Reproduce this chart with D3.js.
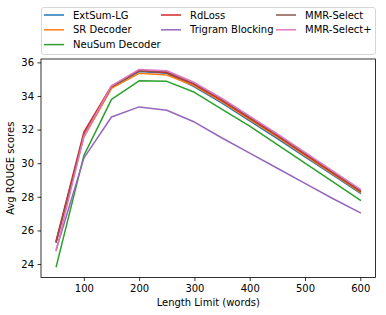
<!DOCTYPE html>
<html>
<head>
    <script src="https://cdnjs.cloudflare.com/ajax/libs/d3/7.8.5/d3.min.js"></script>
    <style>
        body { margin: 0; background: white; }
        text { font-family: "DejaVu Sans", sans-serif; }
    </style>
</head>
<body>
    <svg width="386" height="315"></svg>
    <script>
        const lengths = [50, 100, 150, 200, 250, 300, 350, 400, 450, 500, 550, 600];
        const names = ['ExtSum-LG', 'SR Decoder', 'NeuSum Decoder', 'RdLoss', 'Trigram Blocking', 'MMR-Select', 'MMR-Select+'];
        const colors = ['#1f77b4', '#ff7f0e', '#2ca02c', '#d62728', '#9467bd', '#8c564b', '#e377c2'];

        const extSum  = [25.35, 31.6, 34.5, 35.45, 35.35, 34.55, 33.58, 32.52, 31.47, 30.38, 29.3, 28.22];
        const srDec   = [25.3, 31.55, 34.45, 35.35, 35.25, 34.6, 33.65, 32.6, 31.55, 30.45, 29.37, 28.28];
        const neuSum  = [23.85, 30.45, 33.8, 34.9, 34.87, 34.22, 33.2, 32.2, 31.1, 30.0, 28.9, 27.8];
        const rdLoss  = [25.4, 31.85, 34.6, 35.5, 35.4, 34.68, 33.72, 32.67, 31.62, 30.52, 29.43, 28.33];
        const trigram = [24.85, 30.3, 32.75, 33.35, 33.15, 32.45, 31.5, 30.6, 29.7, 28.8, 27.9, 27.05];
        const mmr     = [25.3, 31.7, 34.55, 35.5, 35.45, 34.72, 33.78, 32.72, 31.67, 30.58, 29.48, 28.38];
        const mmrPlus = [24.8, 31.6, 34.6, 35.58, 35.5, 34.8, 33.85, 32.8, 31.75, 30.65, 29.55, 28.45];
        const series = [extSum, srDec, neuSum, rdLoss, trigram, mmr, mmrPlus];

        const xTicks = [100, 200, 300, 400, 500, 600];
        const yTicks = [24, 26, 28, 30, 32, 34, 36];

        const pL = 41, pR = 375.5, pT = 59, pB = 277.5;
        const svg = d3.select('svg');

        const x = d3.scaleLinear().domain([22.5, 627.5]).range([pL, pR]);
        const y = d3.scaleLinear().domain([23.2, 36.2]).range([pB, pT]);

        // lines
        const line = d3.line().x((d, i) => x(lengths[i])).y(d => y(d));
        series.forEach((s, k) => {
            svg.append('path')
                .attr('d', line(s))
                .attr('fill', 'none')
                .attr('stroke', colors[k])
                .attr('stroke-width', 1.5)
                .attr('stroke-linejoin', 'round')
                .attr('stroke-linecap', 'square');
        });

        // axes
        const xAxis = svg.append('g')
            .attr('transform', `translate(0,${pB})`)
            .call(d3.axisBottom(x).tickValues(xTicks).tickSize(3.5).tickPadding(3.5));
        const yAxis = svg.append('g')
            .attr('transform', `translate(${pL},0)`)
            .call(d3.axisLeft(y).tickValues(yTicks).tickSize(3.5).tickPadding(3.5));
        [xAxis, yAxis].forEach(a => {
            a.select('.domain').remove();
            a.selectAll('text').attr('font-size', 10).attr('font-family', 'DejaVu Sans').attr('fill', '#000');
            a.selectAll('line').attr('stroke', '#000').attr('stroke-width', 0.8);
        });

        svg.append('rect')
            .attr('x', pL).attr('y', pT)
            .attr('width', pR - pL).attr('height', pB - pT)
            .attr('fill', 'none').attr('stroke', '#000').attr('stroke-width', 0.8);

        svg.append('text')
            .attr('x', (pL + pR) / 2).attr('y', 306)
            .attr('text-anchor', 'middle').attr('font-size', 10)
            .text('Length Limit (words)');
        svg.append('text')
            .attr('transform', `translate(14,${(pT + pB) / 2}) rotate(-90)`)
            .attr('text-anchor', 'middle').attr('font-size', 10)
            .text('Avg ROUGE scores');

        // legend
        const legend = svg.append('g');
        legend.append('rect')
            .attr('x', 41.5).attr('y', 7.5).attr('width', 334).attr('height', 47)
            .attr('rx', 2.5)
            .attr('fill', 'white').attr('fill-opacity', 0.8)
            .attr('stroke', '#ccc').attr('stroke-width', 0.8);
        const colX = [44, 161, 276];
        const rows = [0, 1, 2, 0, 1, 0, 1];
        const cols = [0, 0, 0, 1, 1, 2, 2];
        names.forEach((n, k) => {
            const lx = colX[cols[k]], ly = 15 + rows[k] * 14.8;
            legend.append('line')
                .attr('x1', lx).attr('x2', lx + 20)
                .attr('y1', ly).attr('y2', ly)
                .attr('stroke', colors[k]).attr('stroke-width', 1.5);
            legend.append('text')
                .attr('x', lx + 29).attr('y', ly + 3.6)
                .attr('text-anchor', 'start')
                .attr('font-size', 10)
                .text(n);
        });
    </script>
</body>
</html>
